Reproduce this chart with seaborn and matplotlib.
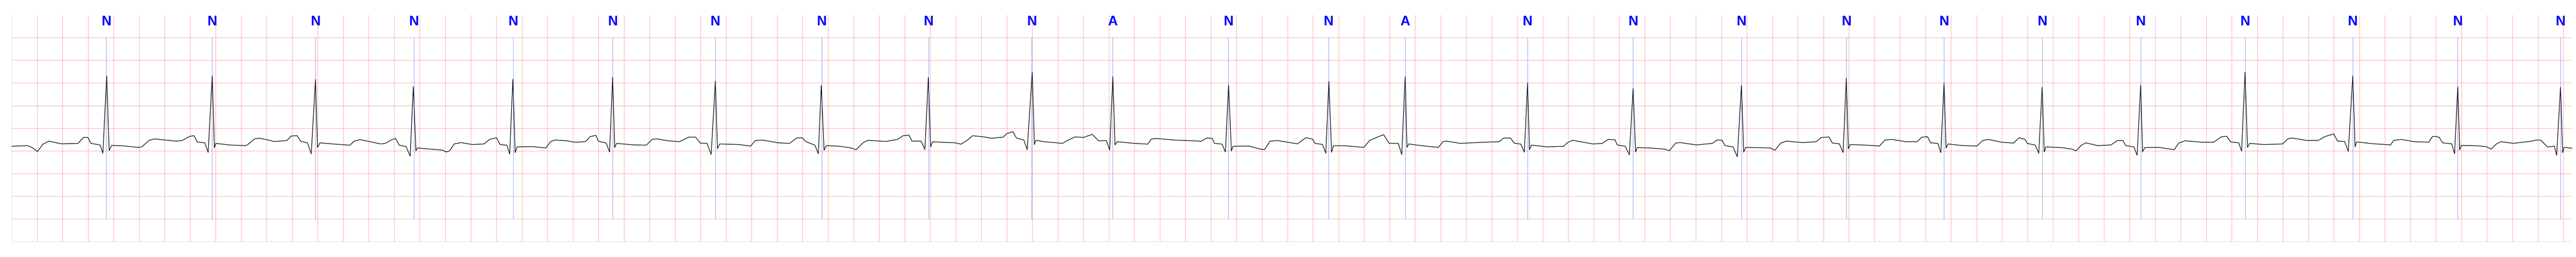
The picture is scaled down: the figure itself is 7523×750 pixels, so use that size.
import numpy as np
import matplotlib
matplotlib.use("Agg")
import matplotlib.pyplot as plt
import seaborn as sns

# ECG trace knots (time s, amplitude mV)
ecg_t = [
    0.000, 0.124, 0.160, 0.202, 0.244, 0.292, 0.388, 0.520, 0.562, 0.598, 0.621, 0.693,
    0.715, 0.745, 0.764, 0.783, 0.867, 0.999, 1.023, 1.077, 1.119, 1.286, 1.334, 1.394,
    1.430, 1.454, 1.514, 1.540, 1.572, 1.589, 1.600, 1.706, 1.833, 1.851, 1.905, 1.941,
    2.012, 2.057, 2.156, 2.192, 2.237, 2.264, 2.318, 2.348, 2.381, 2.397, 2.417, 2.516,
    2.650, 2.686, 2.731, 2.803, 2.893, 2.929, 2.974, 3.010, 3.037, 3.091, 3.123, 3.148,
    3.168, 3.180, 3.234, 3.378, 3.405, 3.432, 3.468, 3.522, 3.612, 3.702, 3.746, 3.800,
    3.827, 3.881, 3.903, 3.928, 3.946, 3.962, 4.079, 4.187, 4.223, 4.259, 4.348, 4.420,
    4.498, 4.534, 4.579, 4.597, 4.659, 4.686, 4.710, 4.726, 4.740, 4.875, 4.974, 5.019,
    5.055, 5.145, 5.234, 5.306, 5.360, 5.396, 5.450, 5.482, 5.515, 5.531, 5.549, 5.702,
    5.792, 5.828, 5.881, 6.007, 6.097, 6.151, 6.196, 6.223, 6.295, 6.322, 6.345, 6.367,
    6.385, 6.492, 6.582, 6.618, 6.672, 6.708, 6.852, 6.942, 6.986, 7.031, 7.056, 7.127,
    7.157, 7.184, 7.202, 7.217, 7.288, 7.396, 7.440, 7.485, 7.530, 7.601, 7.682, 7.771,
    7.798, 7.847, 7.874, 7.932, 7.959, 7.998, 8.015, 8.026, 8.093, 8.236, 8.272, 8.335,
    8.399, 8.468, 8.519, 8.579, 8.605, 8.630, 8.647, 8.664, 8.793, 8.904, 8.930, 8.964,
    9.118, 9.323, 9.366, 9.409, 9.426, 9.486, 9.512, 9.537, 9.559, 9.571, 9.700, 9.794,
    9.820, 9.862, 9.922, 10.076, 10.145, 10.196, 10.213, 10.273, 10.299, 10.323, 10.344, 10.359,
    10.453, 10.598, 10.641, 10.710, 10.752, 10.795, 10.867, 10.894, 10.921, 10.935, 10.948, 11.047,
    11.181, 11.217, 11.244, 11.352, 11.532, 11.657, 11.693, 11.747, 11.774, 11.828, 11.855, 11.880,
    11.895, 11.909, 12.035, 12.161, 12.197, 12.233, 12.394, 12.466, 12.511, 12.565, 12.583, 12.646,
    12.678, 12.707, 12.727, 12.739, 12.844, 12.951, 12.991, 13.041, 13.077, 13.203, 13.329, 13.365,
    13.404, 13.428, 13.490, 13.524, 13.556, 13.574, 13.589, 13.676, 13.783, 13.819, 13.864, 13.909,
    14.035, 14.143, 14.179, 14.242, 14.269, 14.323, 14.353, 14.378, 14.394, 14.409, 14.538, 14.637,
    14.682, 14.736, 14.844, 14.933, 14.969, 15.014, 15.038, 15.095, 15.119, 15.144, 15.160, 15.176,
    15.293, 15.401, 15.446, 15.491, 15.598, 15.688, 15.733, 15.778, 15.796, 15.859, 15.886, 15.913,
    15.929, 15.943, 16.066, 16.146, 16.178, 16.221, 16.255, 16.349, 16.452, 16.503, 16.546, 16.568,
    16.632, 16.657, 16.685, 16.700, 16.717, 16.829, 16.948, 16.983, 17.034, 17.171, 17.256, 17.316,
    17.359, 17.390, 17.453, 17.476, 17.503, 17.522, 17.539, 17.650, 17.796, 17.838, 17.873, 17.992,
    18.078, 18.129, 18.198, 18.228, 18.283, 18.312, 18.347, 18.365, 18.377, 18.506, 18.643, 18.668,
    18.728, 18.828, 18.943, 18.970, 18.988, 19.024, 19.051, 19.122, 19.145, 19.170, 19.185, 19.198,
    19.319, 19.391, 19.431, 19.471, 19.507, 19.605, 19.748, 19.780, 19.820, 19.874, 19.927, 19.945,
    19.975, 19.992, 20.003, 20.066,
]
ecg_mv = [
    -0.394, -0.380, -0.420, -0.510, -0.350, -0.280, -0.340, -0.330, -0.200, -0.200, -0.330, -0.365,
    -0.546, 1.153, -0.490, -0.376, -0.383, -0.420, -0.400, -0.264, -0.231, -0.280, -0.270, -0.177,
    -0.160, -0.300, -0.318, -0.528, 1.164, -0.427, -0.330, -0.365, -0.380, -0.356, -0.230, -0.217,
    -0.255, -0.290, -0.268, -0.167, -0.160, -0.280, -0.318, -0.560, 1.083, -0.420, -0.318, -0.343,
    -0.370, -0.280, -0.247, -0.290, -0.343, -0.330, -0.255, -0.222, -0.369, -0.400, -0.609, 0.919,
    -0.495, -0.432, -0.444, -0.480, -0.520, -0.495, -0.343, -0.313, -0.356, -0.343, -0.242, -0.205,
    -0.356, -0.369, -0.566, 1.083, -0.533, -0.407, -0.400, -0.432, -0.290, -0.255, -0.273, -0.306,
    -0.290, -0.180, -0.154, -0.280, -0.323, -0.520, 1.134, -0.424, -0.330, -0.364, -0.369, -0.242,
    -0.230, -0.273, -0.293, -0.192, -0.192, -0.323, -0.330, -0.576, 1.045, -0.444, -0.343, -0.356,
    -0.389, -0.268, -0.255, -0.318, -0.330, -0.212, -0.205, -0.290, -0.369, -0.558, 0.949, -0.482,
    -0.380, -0.394, -0.432, -0.470, -0.318, -0.263, -0.288, -0.242, -0.162, -0.146, -0.280, -0.280,
    -0.465, 1.121, -0.407, -0.293, -0.306, -0.318, -0.348, -0.268, -0.162, -0.180, -0.217, -0.192,
    -0.116, -0.071, -0.212, -0.255, -0.470, 1.235, -0.356, -0.263, -0.293, -0.330, -0.268, -0.187,
    -0.200, -0.130, -0.275, -0.268, -0.474, 1.142, -0.365, -0.293, -0.329, -0.347, -0.239, -0.221,
    -0.257, -0.282, -0.210, -0.220, -0.329, -0.347, -0.520, 0.962, -0.499, -0.394, -0.390, -0.463,
    -0.463, -0.282, -0.268, -0.340, -0.202, -0.239, -0.329, -0.354, -0.546, 1.034, -0.528, -0.383,
    -0.383, -0.419, -0.268, -0.184, -0.137, -0.329, -0.330, -0.576, 1.141, -0.419, -0.343, -0.380,
    -0.419, -0.293, -0.280, -0.330, -0.306, -0.293, -0.212, -0.212, -0.323, -0.348, -0.525, 1.000,
    -0.470, -0.369, -0.407, -0.394, -0.306, -0.263, -0.343, -0.330, -0.242, -0.250, -0.364, -0.394,
    -0.583, 0.881, -0.520, -0.424, -0.432, -0.457, -0.490, -0.323, -0.313, -0.364, -0.330, -0.255,
    -0.260, -0.380, -0.407, -0.626, 0.947, -0.525, -0.419, -0.424, -0.432, -0.482, -0.323, -0.280,
    -0.313, -0.293, -0.205, -0.187, -0.323, -0.338, -0.533, 1.109, -0.449, -0.356, -0.369, -0.389,
    -0.255, -0.242, -0.293, -0.293, -0.197, -0.180, -0.318, -0.330, -0.533, 0.995, -0.432, -0.343,
    -0.380, -0.389, -0.268, -0.242, -0.306, -0.323, -0.205, -0.242, -0.330, -0.369, -0.550, 0.907,
    -0.520, -0.407, -0.424, -0.457, -0.495, -0.369, -0.318, -0.380, -0.364, -0.268, -0.268, -0.380,
    -0.407, -0.591, 0.957, -0.515, -0.424, -0.419, -0.470, -0.323, -0.273, -0.306, -0.306, -0.187,
    -0.172, -0.298, -0.318, -0.500, 1.242, -0.419, -0.330, -0.356, -0.343, -0.230, -0.212, -0.268,
    -0.263, -0.180, -0.121, -0.280, -0.288, -0.508, 1.159, -0.407, -0.298, -0.338, -0.364, -0.263,
    -0.242, -0.293, -0.304, -0.184, -0.174, -0.195, -0.318, -0.340, -0.557, 0.918, -0.474, -0.376,
    -0.383, -0.401, -0.456, -0.347, -0.293, -0.329, -0.282, -0.257, -0.257, -0.412, -0.390, -0.593,
    0.907, -0.535, -0.419, -0.437,
]

# beat annotations (time s, symbol)
beat_t = [0.7415, 1.5706, 2.381, 3.152, 3.930, 4.710, 5.515, 6.349, 7.185, 7.995,
          8.628, 9.535, 10.321, 10.921, 11.880, 12.707, 13.557, 14.379, 15.144, 15.914,
          16.685, 17.503, 18.346, 19.169, 19.976]
beat_sym = ["N", "N", "N", "N", "N", "N", "N", "N", "N", "N",
            "A", "N", "N", "A", "N", "N", "N", "N", "N", "N",
            "N", "N", "N", "N", "N"]

t_end = 20.067
y_lo, y_hi = -2.5, 2.5

sns.set_style("white")

fig = plt.figure(figsize=(75.23, 7.5), dpi=100)
ax = fig.add_axes([34 / 7523, 44.5 / 750, 7478 / 7523, 661.5 / 750])

# ECG paper grid: 0.2 s x 0.5 mV
ax.set_xticks(np.arange(0, t_end, 0.2))
ax.set_yticks(np.arange(y_lo, y_hi, 0.5))
ax.grid(True, color="red", alpha=0.3, linewidth=1.1)
ax.set_axisbelow(True)
ax.tick_params(length=0, labelbottom=False, labelleft=False)
for s in ax.spines.values():
    s.set_visible(False)

sns.lineplot(x=ecg_t, y=ecg_mv, color="black", linewidth=1.3,
             estimator=None, sort=False, ax=ax)

for t, sym in zip(beat_t, beat_sym):
    ax.axvline(t, ymin=0.1, ymax=0.9, color="blue", alpha=0.5, linewidth=0.8)
    ax.text(t, y_hi, sym, ha="center", va="top", color="blue", zorder=0.4,
            fontsize=28.5, fontweight="bold",
            family=["Liberation Sans Narrow", "Liberation Sans", "DejaVu Sans"])

ax.set_xlim(0, t_end)
ax.set_ylim(y_lo, y_hi)
ax.set_xlabel("")
ax.set_ylabel("")

fig.savefig("out.png", dpi=100)
